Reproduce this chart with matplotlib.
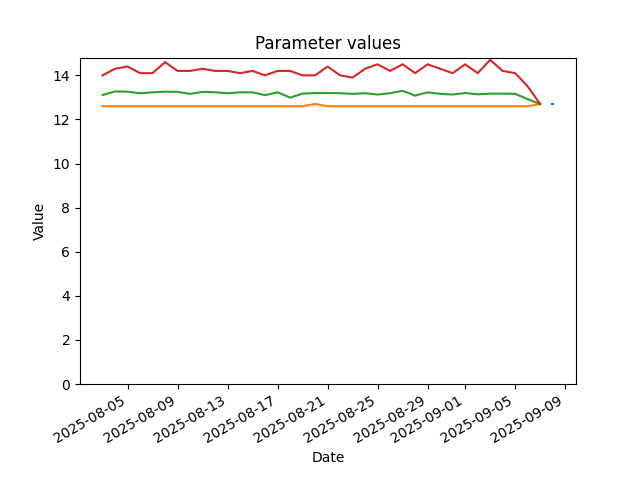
import numpy as np
import pandas as pd
import matplotlib
matplotlib.use("Agg")
import matplotlib.pyplot as plt

# daily values
dates = pd.date_range("2025-08-03", "2025-09-07", freq="D")

max_vals = [14.0, 14.3, 14.4, 14.1, 14.1, 14.6, 14.2, 14.2, 14.3, 14.2,
            14.2, 14.1, 14.2, 14.0, 14.2, 14.2, 14.0, 14.0, 14.4, 14.0,
            13.9, 14.3, 14.5, 14.2, 14.5, 14.1, 14.5, 14.3, 14.1, 14.5,
            14.1, 14.7, 14.2, 14.1, 13.5, 12.7]
mean_vals = [13.11, 13.27, 13.26, 13.19, 13.23, 13.26, 13.25, 13.16, 13.25, 13.23,
             13.19, 13.23, 13.23, 13.10, 13.23, 12.99, 13.17, 13.20, 13.20, 13.19,
             13.16, 13.19, 13.13, 13.19, 13.30, 13.08, 13.23, 13.16, 13.13, 13.20,
             13.14, 13.17, 13.17, 13.16, 12.92, 12.70]
min_vals = [12.6] * 17 + [12.7] + [12.6] * 17 + [12.7]

# lone reading after the daily series
last_dates = pd.to_datetime(["2025-09-07 22:30", "2025-09-08 01:30"])
last_vals = [12.7, 12.7]

fig, ax = plt.subplots(figsize=(6.4, 4.8), dpi=100)
ax.plot(last_dates, last_vals, color="C0")
ax.plot(dates, min_vals, color="C1")
ax.plot(dates, mean_vals, color="C2")
ax.plot(dates, max_vals, color="C3")

ax.set_ylim(bottom=0)
ax.set_title("Parameter values")
ax.set_xlabel("Date")
ax.set_ylabel("Value")
fig.autofmt_xdate()

fig.savefig("out.png")
